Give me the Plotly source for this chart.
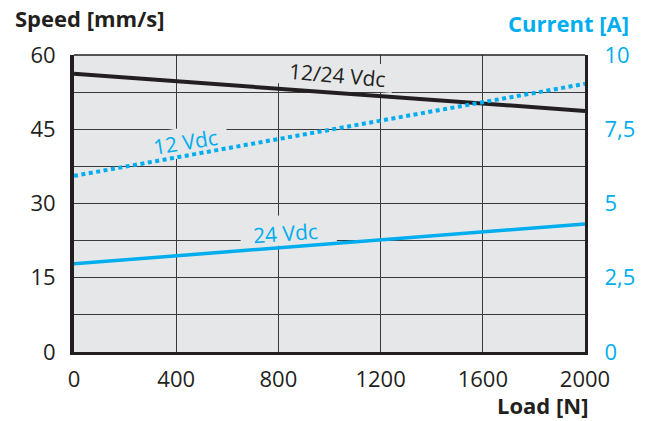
import math
import plotly.graph_objects as go

# ---- data ----
load = [0, 2000]
speed = [56.2, 48.7]            # mm/s, 12/24 Vdc
current_12 = [5.93, 9.03]       # A, 12 Vdc
current_24 = [2.97, 4.31]       # A, 24 Vdc
x_ticks = [0, 400, 800, 1200, 1600, 2000]
speed_ticks = [0, 15, 30, 45, 60]
current_ticks = [0, 2.5, 5, 7.5, 10]
current_tick_text = ["0", "2,5", "5", "7,5", "10"]

# ---- styling ----
W, H = 648, 421
L, R, T, B = 74, 585, 55, 352
BLUE = "#00aeef"
DARK = "#231f20"
BG = "#e6e7e8"
GRID = "#3a3a3a"
FONT = "Open Sans"


def to_data(px, py):
    return ((px - L) / (R - L) * 2000, (B - py) / (B - T) * 60)


def to_paper(px, py):
    return ((px - L) / (R - L), (B - py) / (B - T))


def mask_path(cx, cy, w, h, ang):
    a = math.radians(ang)
    pts = []
    for dx, dy in [(-w / 2, -h / 2), (w / 2, -h / 2), (w / 2, h / 2), (-w / 2, h / 2)]:
        px = cx + dx * math.cos(a) - dy * math.sin(a)
        py = cy + dx * math.sin(a) + dy * math.cos(a)
        pts.append(to_data(px, py))
    return "M " + " L ".join(f"{x:.2f},{y:.3f}" for x, y in pts) + " Z"


fig = go.Figure()
fig.add_trace(go.Scatter(x=load, y=speed, mode="lines",
                         line=dict(color=DARK, width=4), yaxis="y", hoverinfo="skip"))
fig.add_trace(go.Scatter(x=load, y=current_12, mode="lines",
                         line=dict(color=BLUE, width=4, dash="4px,3.5px"), yaxis="y2", hoverinfo="skip"))
fig.add_trace(go.Scatter(x=load, y=current_24, mode="lines",
                         line=dict(color=BLUE, width=3.5), yaxis="y2", hoverinfo="skip"))

labels = [
    ("12/24 Vdc", DARK, 337, 75, 5, 118, 28, 334, 74),
    ("12 Vdc", BLUE, 185, 142, -9, 80, 30, 188, 142),
    ("24 Vdc", BLUE, 285, 233, -4, 96, 30, 288, 230),
]
shapes = []
annotations = []
for text, col, cx, cy, ang, mw, mh, mx, my in labels:
    shapes.append(dict(type="path", path=mask_path(mx, my, mw, mh, ang), xref="x", yref="y",
                       fillcolor=BG, line=dict(width=0), layer="between"))
    x, y = to_data(cx, cy)
    annotations.append(dict(text=text, x=x, y=y, xref="x", yref="y", showarrow=False,
                            textangle=ang, font=dict(family=FONT, size=21, color=col),
                            xanchor="center", yanchor="middle"))

# top border (thin)
shapes.append(dict(type="line", x0=0, x1=1, y0=1, y1=1, xref="paper", yref="paper",
                   line=dict(color=DARK, width=1.5), layer="above"))

for text, col, px, py, anchor in [
    ("Speed [mm/s]", DARK, 13, 18, "left"),
    ("Current [A]", BLUE, 631, 23, "right"),
    ("Load [N]", DARK, 590, 405, "right"),
]:
    x, y = to_paper(px, py)
    annotations.append(dict(text=f"<b>{text}</b>", x=x, y=y, xref="paper", yref="paper",
                            showarrow=False, xanchor=anchor, yanchor="middle",
                            font=dict(family=FONT, size=22, color=col)))

fig.update_layout(
    width=W, height=H,
    margin=dict(l=L, r=W - R, t=T, b=H - B, pad=0, autoexpand=False),
    paper_bgcolor="white", plot_bgcolor=BG,
    showlegend=False,
    font=dict(family=FONT, size=22, color=DARK),
    xaxis=dict(range=[0, 2000], tickvals=x_ticks, showgrid=True, gridcolor=GRID, gridwidth=1.2,
               zeroline=False, showline=True, linecolor=DARK, linewidth=3,
               ticks="outside", ticklen=6, tickcolor="rgba(0,0,0,0)",
               tickfont=dict(family=FONT, size=22, color=DARK), fixedrange=True),
    yaxis=dict(range=[0, 60], tickvals=speed_ticks, showgrid=True, gridcolor=GRID, gridwidth=1.2,
               minor=dict(dtick=7.5, tick0=0, showgrid=True, gridcolor=GRID, gridwidth=1.2),
               zeroline=False, showline=True, linecolor=DARK, linewidth=4,
               ticks="outside", ticklen=10, tickcolor="rgba(0,0,0,0)",
               tickfont=dict(family=FONT, size=22, color=DARK), fixedrange=True),
    yaxis2=dict(range=[0, 10], tickvals=current_ticks, ticktext=current_tick_text,
                overlaying="y", side="right", showgrid=False, zeroline=False,
                showline=True, linecolor=DARK, linewidth=3,
                ticks="outside", ticklen=12, tickcolor="rgba(0,0,0,0)",
                tickfont=dict(family=FONT, size=22, color=BLUE), fixedrange=True),
    shapes=shapes,
    annotations=annotations,
)

fig.write_html("out.html", config={"displayModeBar": False},
               post_script="document.body.style.margin='0';document.body.style.padding='0';")
